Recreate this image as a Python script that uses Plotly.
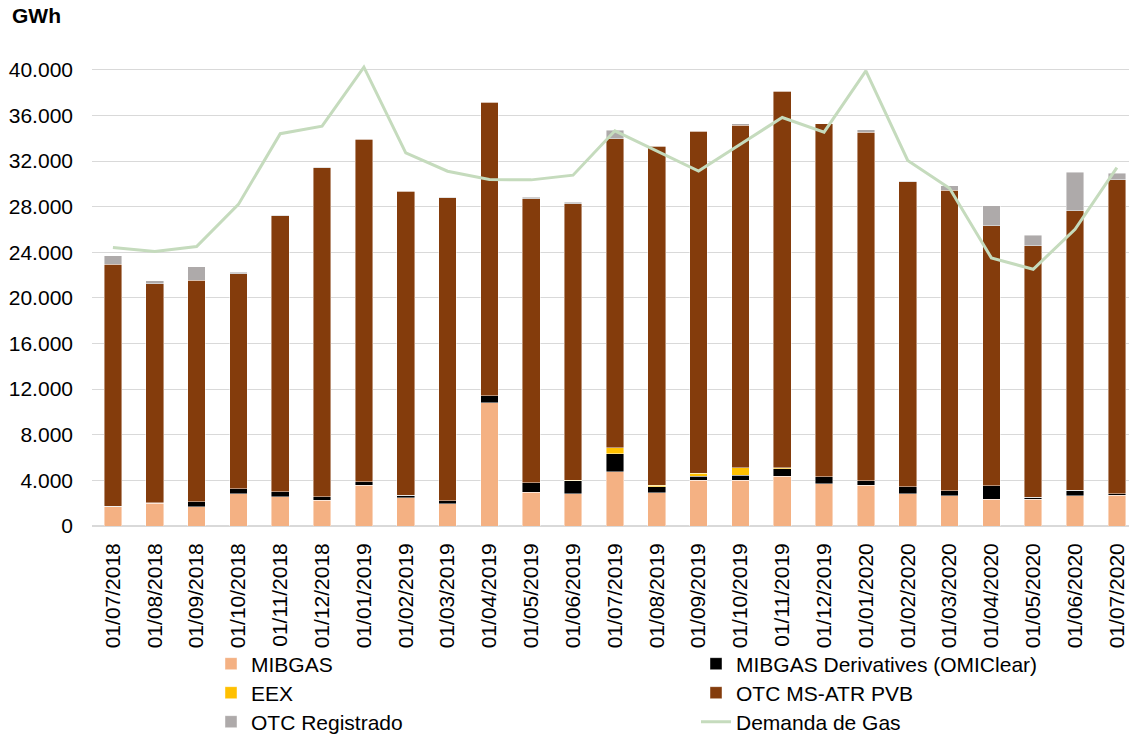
import plotly.graph_objects as go

months = ["01/07/2018", "01/08/2018", "01/09/2018", "01/10/2018", "01/11/2018", "01/12/2018",
          "01/01/2019", "01/02/2019", "01/03/2019", "01/04/2019", "01/05/2019", "01/06/2019",
          "01/07/2019", "01/08/2019", "01/09/2019", "01/10/2019", "01/11/2019", "01/12/2019",
          "01/01/2020", "01/02/2020", "01/03/2020", "01/04/2020", "01/05/2020", "01/06/2020",
          "01/07/2020"]

mibgas = [1680, 2000, 1680, 2820, 2560, 2240, 3590, 2470, 1970, 10820, 2940, 2820,
          4760, 2910, 4000, 4000, 4380, 3710, 3590, 2820, 2650, 2350, 2350, 2650, 2710]
mibgas_deriv = [60, 30, 440, 440, 440, 320, 290, 210, 230, 610, 850, 1150,
                1560, 530, 350, 440, 650, 610, 380, 620, 440, 1180, 180, 500, 110]
eex = [0, 0, 0, 0, 0, 0, 0, 0, 0, 0, 0, 60,
       540, 120, 270, 650, 60, 0, 0, 0, 0, 0, 0, 0, 0]
otc_msatr = [21210, 19200, 19410, 18880, 24190, 28870, 30040, 26680, 26600, 25730, 24920, 24240,
             27090, 29740, 30000, 30030, 33040, 30940, 30560, 26760, 26330, 22790, 22030, 24510, 27530]
otc_reg = [730, 270, 1220, 110, 40, 30, 30, 40, 30, 30, 120, 120,
           760, 30, 30, 140, 30, 30, 210, 30, 430, 1780, 940, 3360, 590]
demanda = [24410, 24060, 24500, 28200, 34400, 35060, 40230, 32720, 31110, 30380, 30350, 30760,
           34650, 32850, 31120, 33480, 35820, 34530, 39910, 32050, 29620, 23510, 22510, 26020, 31430]

FONT = "Liberation Sans, Arial, sans-serif"
FS = 21
edge = dict(color="rgba(255,255,255,0.55)", width=0.8)

W, H = 1129, 738
ML, MT, MB = 92, 47, 212
PW = W - ML
PH = H - MT - MB


def px_x(page_x):
    return (page_x - ML) / PW


def px_y(page_y):
    return (H - MB - page_y) / PH


fig = go.Figure()
bar_specs = [
    ("MIBGAS", mibgas, "#f4b183", "legend"),
    ("MIBGAS Derivatives (OMIClear)", mibgas_deriv, "#000000", "legend2"),
    ("EEX", eex, "#ffc000", "legend3"),
    ("OTC MS-ATR PVB", otc_msatr, "#843c0c", "legend4"),
    ("OTC Registrado", otc_reg, "#aeaaaa", "legend5"),
]
for name, vals, col, lg in bar_specs:
    fig.add_trace(go.Bar(x=months, y=vals, name=name, marker=dict(color=col, line=edge),
                         width=0.42, legend=lg))

fig.add_trace(go.Scatter(x=months, y=demanda, name="Demanda de Gas", mode="lines",
                         line=dict(color="#c5dbbd", width=3), legend="legend6"))

col_x = [px_x(211), px_x(696)]
row_y = [px_y(664), px_y(693), px_y(722)]
legends = {}
for i in range(6):
    key = "legend" if i == 0 else f"legend{i + 1}"
    legends[key] = dict(x=col_x[i % 2], y=row_y[i // 2], xanchor="left", yanchor="middle",
                        orientation="v", font=dict(family=FONT, size=FS),
                        bgcolor="rgba(0,0,0,0)")

fig.update_layout(
    width=W, height=H,
    margin=dict(l=ML, r=0, t=MT, b=MB, autoexpand=False),
    barmode="stack",
    separators=",.",
    plot_bgcolor="white", paper_bgcolor="white",
    font=dict(family=FONT, size=FS, color="black"),
    showlegend=True,
    xaxis=dict(type="category", tickangle=-90, range=[-0.5, 24.29], showgrid=False,
               ticks="", ticklabelstandoff=12, showline=False, zeroline=False,
               tickfont=dict(family=FONT, size=FS)),
    yaxis=dict(range=[0, 42000], dtick=4000, tick0=0, tickformat=",.0f",
               showgrid=True, gridcolor="#d9d9d9", gridwidth=1.3,
               zeroline=True, zerolinecolor="#d9d9d9", zerolinewidth=2,
               ticks="", ticklabelstandoff=18, tickfont=dict(family=FONT, size=FS)),
    annotations=[dict(text="<b>GWh</b>", x=px_x(10), y=px_y(15.5), xref="paper", yref="paper",
                      xanchor="left", yanchor="middle", showarrow=False,
                      font=dict(family=FONT, size=FS))],
    **legends,
)

fig.write_html("out.html",
               config={"displayModeBar": False},
               post_script="document.body.style.margin='0';document.body.style.overflow='hidden';")
